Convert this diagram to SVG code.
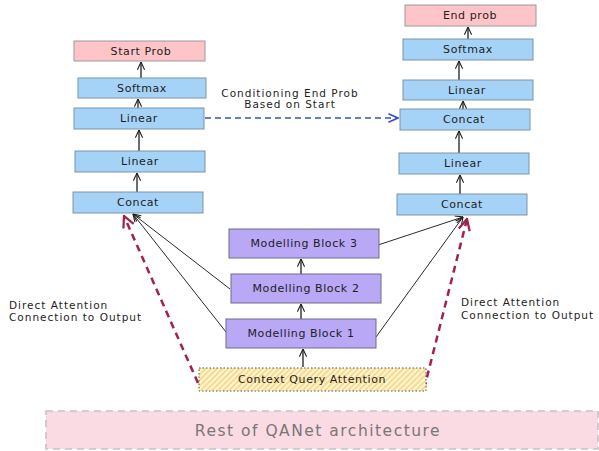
<svg xmlns="http://www.w3.org/2000/svg" width="599" height="451" viewBox="0 0 599 451">
  <style>
    .lbl { font-family: "DejaVu Sans", "Liberation Sans", sans-serif; font-size: 11px; letter-spacing: 0.6px; fill: #1e1e1e; text-anchor: middle; dominant-baseline: central; }
    .note { font-family: "DejaVu Sans", "Liberation Sans", sans-serif; font-size: 10.5px; letter-spacing: 1px; fill: #1e1e1e; }
    .blue { fill: #a5d3f7; stroke: #7d93a8; stroke-width: 1; }
    .pink { fill: #ffc4c8; stroke: #9a9a9a; stroke-width: 1; }
    .violet { fill: #b9a8f6; stroke: #6f6a8c; stroke-width: 1; }
    .edge { fill: none; stroke: #1e1e1e; stroke-width: 1.3; marker-end: url(#ah); }
    .feed { fill: none; stroke: #2b2b2b; stroke-width: 1; marker-end: url(#ah); }
    .direct { fill: none; stroke: #a3204f; stroke-width: 2.5; stroke-dasharray: 7 5; marker-end: url(#ahRed); }
    .cond { fill: none; stroke: #3a4fc4; stroke-width: 1.6; stroke-dasharray: 6 4; marker-end: url(#ahBlue); }
  </style>
  <defs>
    <marker id="ah" viewBox="0 0 10 10" refX="9.5" refY="5" markerWidth="9" markerHeight="9" orient="auto" markerUnits="userSpaceOnUse">
      <path d="M1,1 L9.5,5 L1,9" fill="none" stroke="#1e1e1e" stroke-width="1.2"/>
    </marker>
    <marker id="ahRed" viewBox="0 0 10 10" refX="9" refY="5" markerWidth="14" markerHeight="14" orient="auto" markerUnits="userSpaceOnUse">
      <path d="M1,1 L9,5 L1,9" fill="none" stroke="#a3204f" stroke-width="1.6"/>
    </marker>
    <marker id="ahBlue" viewBox="0 0 10 10" refX="9" refY="5" markerWidth="12" markerHeight="12" orient="auto" markerUnits="userSpaceOnUse">
      <path d="M1,1.5 L9,5 L1,8.5" fill="none" stroke="#3a4fc4" stroke-width="1.3"/>
    </marker>
    <pattern id="hatch" width="4" height="4" patternUnits="userSpaceOnUse" patternTransform="rotate(-45)">
      <rect width="4" height="4" fill="#fff6d6"/>
      <line x1="0" y1="2" x2="4" y2="2" stroke="#f7cf6a" stroke-width="1.4"/>
    </pattern>
  </defs>

  <!-- background layer -->
  <g id="rest">
    <rect x="46" y="411" width="552" height="38" fill="#fadbe4" stroke="#c7c2c4" stroke-width="1.6" stroke-dasharray="7 5"/>
    <text x="318" y="431" font-family="DejaVu Sans, Liberation Sans, sans-serif" font-size="15.5" letter-spacing="1.5" fill="#7a7676" text-anchor="middle" dominant-baseline="central">Rest of QANet architecture</text>
  </g>

  <!-- connectors -->
  <g id="connectors">
    <!-- left head -->
    <line class="edge" x1="141" y1="78" x2="141" y2="62"/>
    <line class="edge" x1="138" y1="108" x2="138" y2="99"/>
    <line class="edge" x1="139" y1="151" x2="139" y2="130"/>
    <line class="edge" x1="137" y1="192" x2="137" y2="173"/>
    <!-- right head -->
    <line class="edge" x1="468" y1="39" x2="468" y2="27"/>
    <line class="edge" x1="459" y1="80" x2="459" y2="61"/>
    <line class="edge" x1="463" y1="109" x2="463" y2="101"/>
    <line class="edge" x1="459" y1="153" x2="459" y2="131"/>
    <line class="edge" x1="460" y1="194" x2="460" y2="175"/>
    <!-- modelling stack -->
    <line class="edge" x1="301" y1="274" x2="301" y2="259"/>
    <line class="edge" x1="301" y1="319" x2="301" y2="304"/>
    <line class="edge" x1="303" y1="367" x2="303" y2="349"/>
    <!-- block outputs into the concats -->
    <line class="feed" x1="230" y1="289" x2="133" y2="214"/>
    <line class="feed" x1="226" y1="332" x2="133" y2="214"/>
    <line class="feed" x1="378" y1="245" x2="463" y2="217"/>
    <line class="feed" x1="376" y1="337" x2="463" y2="217"/>
    <!-- direct attention links -->
    <line class="direct" x1="198" y1="383" x2="124" y2="216"/>
    <line class="direct" x1="424" y1="389" x2="467" y2="219"/>
    <!-- start conditioning -->
    <line class="cond" x1="205" y1="118" x2="398" y2="118"/>
  </g>

  <!-- left output head -->
  <g id="start-prob"><rect class="pink" x="74" y="41" width="131" height="20"/><text class="lbl" x="141" y="51">Start Prob</text></g>
  <g id="start-softmax"><rect class="blue" x="78" y="78" width="128" height="20"/><text class="lbl" x="142" y="88">Softmax</text></g>
  <g id="start-linear-2"><rect class="blue" x="74" y="108" width="130" height="21"/><text class="lbl" x="139" y="118.5">Linear</text></g>
  <g id="start-linear-1"><rect class="blue" x="75" y="151" width="130" height="21"/><text class="lbl" x="140" y="161.5">Linear</text></g>
  <g id="start-concat"><rect class="blue" x="73" y="192" width="130" height="21"/><text class="lbl" x="138" y="202.5">Concat</text></g>

  <!-- right output head -->
  <g id="end-prob"><rect class="pink" x="405" y="5" width="131" height="21"/><text class="lbl" x="470" y="15.5">End prob</text></g>
  <g id="end-softmax"><rect class="blue" x="403" y="39" width="130" height="21"/><text class="lbl" x="468" y="49.5">Softmax</text></g>
  <g id="end-linear-2"><rect class="blue" x="403" y="80" width="130" height="20"/><text class="lbl" x="467" y="90">Linear</text></g>
  <g id="end-concat-2"><rect class="blue" x="400" y="109" width="130" height="21"/><text class="lbl" x="464" y="119.5">Concat</text></g>
  <g id="end-linear-1"><rect class="blue" x="399" y="153" width="130" height="21"/><text class="lbl" x="463" y="163.5">Linear</text></g>
  <g id="end-concat-1"><rect class="blue" x="397" y="194" width="130" height="21"/><text class="lbl" x="462" y="204.5">Concat</text></g>

  <!-- modelling blocks -->
  <g id="modelling-3"><rect class="violet" x="229" y="229" width="150" height="29"/><text class="lbl" x="304" y="243.5">Modelling Block 3</text></g>
  <g id="modelling-2"><rect class="violet" x="231" y="274" width="150" height="29"/><text class="lbl" x="306" y="288.5">Modelling Block 2</text></g>
  <g id="modelling-1"><rect class="violet" x="226" y="319" width="150" height="29"/><text class="lbl" x="301" y="333.5">Modelling Block 1</text></g>

  <!-- attention layer -->
  <g id="cq-attention">
    <rect x="199" y="368" width="227" height="23" fill="url(#hatch)" stroke="#555" stroke-width="1" stroke-dasharray="1.5 2"/>
    <text class="lbl" x="312" y="379.5">Context Query Attention</text>
  </g>

  <!-- annotations -->
  <g id="annotations">
    <text class="note" x="290" y="93" text-anchor="middle" dominant-baseline="central">Conditioning End Prob</text>
    <text class="note" x="290" y="104" text-anchor="middle" dominant-baseline="central">Based on Start</text>
    <text class="note" x="9" y="305" dominant-baseline="central">Direct Attention</text>
    <text class="note" x="9" y="317" dominant-baseline="central">Connection to Output</text>
    <text class="note" x="461" y="302" dominant-baseline="central">Direct Attention</text>
    <text class="note" x="461" y="315" dominant-baseline="central">Connection to Output</text>
  </g>
</svg>
